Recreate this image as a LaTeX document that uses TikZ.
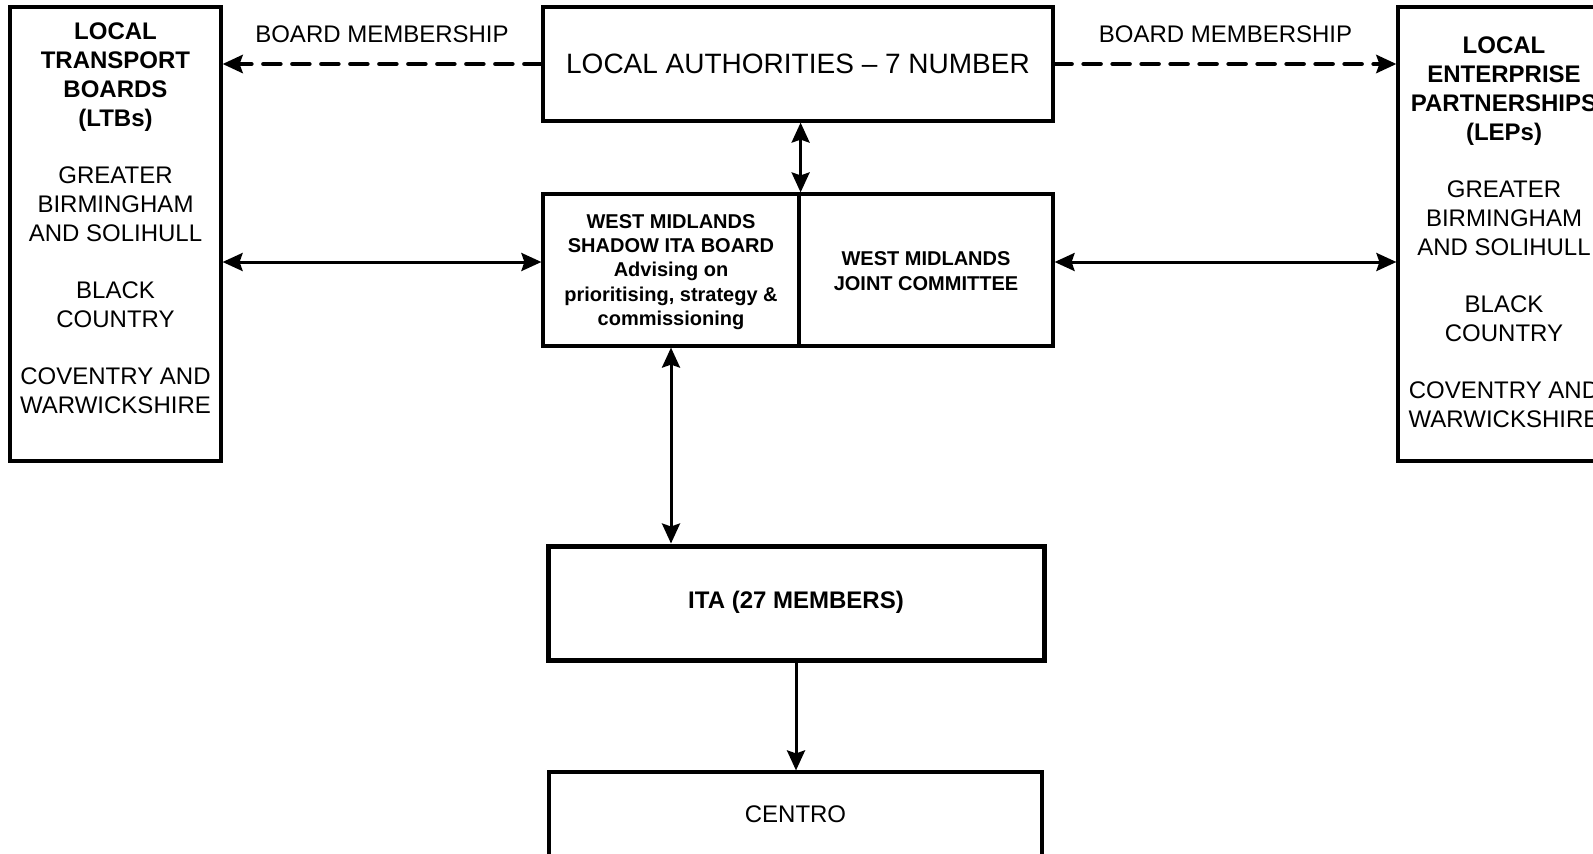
\documentclass[tikz,border=0pt]{standalone}
\usepackage{fontspec}
\setmainfont{Liberation Sans}
\usetikzlibrary{arrows.meta}
\tikzset{
  box/.style={draw, line width=3.2pt, rectangle, inner sep=0pt},
  thickbox/.style={draw, line width=5pt, rectangle, inner sep=0pt},
  txt/.style={align=center, inner sep=0pt, font=\fontsize{24}{29}\selectfont},
  smalltxt/.style={align=center, inner sep=0pt, font=\fontsize{20}{24.4}\selectfont\bfseries},
  dasharrow/.style={line width=4.5pt, dash pattern=on 17pt off 12pt, line cap=round, -{Stealth[length=20pt, width=18pt, inset=3pt]}},
  dblarrow/.style={line width=3pt, {Stealth[length=20pt, width=18pt, inset=3pt]}-{Stealth[length=20pt, width=18pt, inset=3pt]}},
  onearrow/.style={line width=3pt, -{Stealth[length=20pt, width=18pt, inset=3pt]}},
  lbl/.style={inner sep=0pt, font=\fontsize{24}{29}\selectfont},
}
\begin{document}
\begin{tikzpicture}[x=1pt, y=-1pt]
\useasboundingbox (0,0) rectangle (1593,854);
\clip (0,0) rectangle (1593,854);
% boxes
\node[box, minimum width=211pt, minimum height=454pt] (ltb) at (115.5,234) {};
\node[box, minimum width=510pt, minimum height=114pt, font=\fontsize{28}{34}\selectfont] (la) at (798,64) {LOCAL AUTHORITIES -- 7 NUMBER};
\node[box, minimum width=256pt, minimum height=152pt] (sh) at (671,270) {};
\node[box, minimum width=254pt, minimum height=152pt] (jc) at (926,270) {};
\node[box, minimum width=212pt, minimum height=454pt] (lep) at (1504,234) {};
\node[thickbox, minimum width=496pt, minimum height=114pt] (ita) at (796,603) {};
\node[box, minimum width=493pt, minimum height=86pt] (centro) at (795.5,815) {};
% texts
\node[txt] (ltbtext) at (115.5,218) {{\bfseries LOCAL}\\{\bfseries TRANSPORT}\\{\bfseries BOARDS}\\{\bfseries (LTBs)}\\[28pt]GREATER\\BIRMINGHAM\\AND SOLIHULL\\[28pt]BLACK\\COUNTRY\\[28pt]COVENTRY AND\\WARWICKSHIRE};
\node[txt] (leptext) at (1504,232.5) {{\bfseries LOCAL}\\{\bfseries ENTERPRISE}\\{\bfseries PARTNERSHIPS}\\{\bfseries (LEPs)}\\[28pt]GREATER\\BIRMINGHAM\\AND SOLIHULL\\[28pt]BLACK\\COUNTRY\\[28pt]COVENTRY AND\\WARWICKSHIRE};
\node[smalltxt] (shtext) at (671,272) {WEST MIDLANDS\\SHADOW ITA BOARD\\Advising on\\prioritising, strategy \&\\commissioning};
\node[smalltxt] (jctext) at (926,271) {WEST MIDLANDS\\JOINT COMMITTEE};
\node[txt, font=\fontsize{24}{29}\selectfont\bfseries] (itatext) at (796,602) {ITA (27 MEMBERS)};
\node[txt] (centrotext) at (795.5,814) {CENTRO};
% connectors
\draw[dasharrow] (la.west) -- (la.west -| ltb.east) node[lbl, midway, yshift=30pt] (bm1) {BOARD MEMBERSHIP};
\draw[dasharrow] (la.east) -- (la.east -| lep.west) node[lbl, midway, yshift=30pt] (bm2) {BOARD MEMBERSHIP};
\draw[dblarrow] (sh.north east |- la.south) -- (sh.north east);
\coordinate (ly) at ([yshift=8pt]sh.west);
\coordinate (ry) at ([yshift=8pt]jc.east);
\draw[dblarrow] (ly -| ltb.east) -- (ly);
\draw[dblarrow] (ry) -- (ry -| lep.west);
\draw[dblarrow] (sh.south) -- (sh.south |- ita.north);
\draw[onearrow] (ita.south) -- (ita.south |- centro.north);
\end{tikzpicture}
\end{document}
